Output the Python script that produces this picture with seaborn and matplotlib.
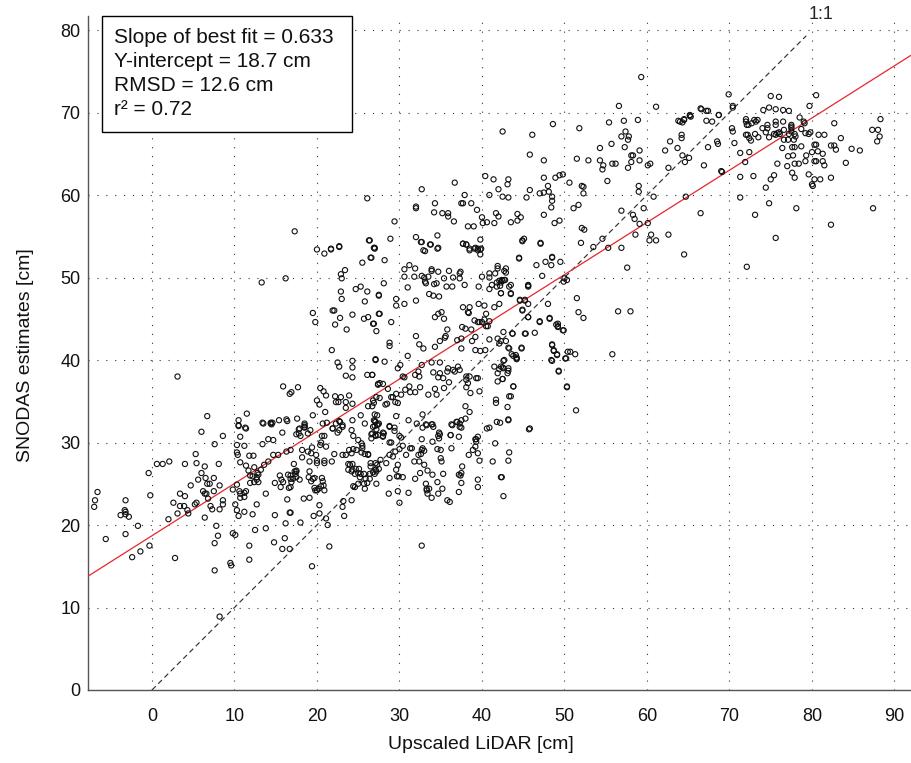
import numpy as np
import matplotlib
matplotlib.use("Agg")
import matplotlib.pyplot as plt
from matplotlib.patches import Rectangle
import seaborn as sns
import pandas as pd

sns.set_style("white")
plt.rcParams['font.family'] = ['Liberation Sans', 'DejaVu Sans']

# ---- data: (Upscaled LiDAR [cm], SNODAS estimate [cm]) ----
cluster_low = [
    (6.0,31.3),(8.6,30.8),(10.5,32.1),(11.3,31.8),(13.4,32.4),(14.4,32.4),(14.6,32.4),(15.8,31.2),(17.5,31.0),
    (10.7,30.7),(7.6,29.8),(10.3,29.7),(11.2,29.6),(13.4,29.8),(14.1,30.4),(14.7,30.3),(16.8,29.1),(16.3,28.9),
    (10.3,28.8),(10.4,28.5),(11.8,28.4),(12.3,28.4),(14.7,28.5),(15.3,28.5),(0.6,27.4),(1.3,27.4),(2.1,27.7),
    (4.0,27.4),(5.4,27.5),(5.3,28.6),(8.1,27.4),(6.4,27.1),(-0.4,26.3),(10.7,27.6),(11.4,27.2),(12.4,27.0),
    (13.6,27.3),(14.1,27.7),(11.7,26.6),(13.2,26.7),(12.8,26.3),(6.0,26.3),(5.6,25.5),(7.5,25.7),(6.5,25.7),
    (6.7,25.0),(7.0,25.0),(4.7,24.8),(3.4,23.8),(4.0,23.5),(2.6,22.7),(3.4,22.3),(3.9,22.3),(5.2,22.5),(5.4,22.7),
    (4.3,21.8),(4.4,21.4),(3.1,21.4),(2.0,20.7),(6.2,24.1),(6.4,23.8),(6.6,23.8),(6.8,23.2),(7.5,24.1),(8.2,24.8),
    (8.6,23.0),(8.6,22.5),(8.2,21.9),(7.1,22.3),(7.3,21.9),(6.4,20.9),(9.8,24.3),(10.3,24.9),(10.6,24.1),(10.7,23.8),
    (10.7,23.3),(11.2,23.9),(11.4,24.1),(11.2,23.4),(10.1,22.5),(10.3,21.8),(10.5,21.1),(11.2,21.6),(12.2,21.3),
    (12.7,22.5),(11.9,25.1),(12.4,25.2),(12.7,25.5),(12.9,25.2),(11.9,26.0),(12.2,25.9),(12.7,25.8),(12.9,26.1),
    (14.9,25.1),(15.5,26.0),(15.7,25.5),(15.9,25.2),(16.5,26.1),(16.8,25.6),(16.9,25.2),(17.3,26.5),(17.4,26.2),
    (17.5,26.6),(15.6,24.6),(16.6,24.5),(16.4,23.1),(16.7,21.5),(14.9,21.2),(13.8,23.8),(12.5,19.4),(13.8,19.6),
    (16.2,20.2),(14.8,17.9),(16.1,18.4),(15.8,17.1),(16.7,17.1),(11.8,17.5),(11.8,15.8),(9.8,19.0),(10.1,18.8),
    (7.8,19.9),(8.0,18.7),(7.6,17.8),(7.6,14.5),(9.5,15.4),(9.6,15.1),(8.2,8.9),(2.8,16.0),(-0.3,17.5),(-1.4,16.8),
    (-2.4,16.1),(-3.2,18.9),(-1.7,19.9),(-5.6,18.3),(-3.2,23.0),(-3.3,21.8),(-3.2,21.6),(-3.2,21.3),(-2.8,21.0),
    (-3.8,21.2),(-6.9,23.0),(-7.0,22.2),(-6.6,24.0),(-0.2,23.6),(3.1,38.0),
]

cluster_mid_low = [
    (16.8,26.0),(16.8,24.6),(16.8,21.5),(17.2,27.4),(17.5,26.5),(17.5,25.8),(17.1,25.6),(17.9,25.5),(18.5,32.3),
    (17.9,31.7),(18.5,31.9),(17.8,31.1),(18.0,30.8),(18.9,31.1),(19.2,31.5),(18.2,29.1),(18.2,28.2),(18.9,28.9),
    (19.4,29.4),(19.3,28.7),(19.9,28.5),(19.1,27.7),(19.1,26.5),(19.0,25.8),(19.3,25.3),(19.5,25.6),(19.7,25.7),
    (19.7,24.5),(19.8,24.2),(20.2,24.4),(20.5,24.7),(20.0,24.2),(20.9,24.2),(18.4,23.2),(19.1,23.3),(20.3,22.4),
    (20.3,21.4),(19.6,21.1),(18.0,20.3),(21.1,20.8),(21.3,20.0),(21.5,17.4),(19.4,15.0),(20.0,27.8),(20.0,27.5),
    (20.9,27.8),(20.9,27.5),(21.8,27.7),(20.6,25.7),(20.7,25.3),(20.8,24.8),(20.5,30.0),(20.4,29.7),(20.6,30.8),
    (20.9,30.8),(21.1,29.5),(22.1,28.6),(21.2,32.4),(21.9,31.7),(22.5,31.2),(22.7,31.5),(22.3,32.3),(22.8,32.5),
    (23.1,31.9),(23.1,28.5),(23.5,28.5),(23.8,27.4),(24.0,27.3),(24.3,27.4),(23.8,26.7),(24.3,26.7),(24.2,26.5),
    (24.7,26.8),(24.6,26.2),(25.0,26.3),(25.1,26.8),(24.4,24.7),(24.6,24.6),(25.0,25.0),(24.2,23.0),(23.2,22.9),
    (23.1,22.2),(23.3,21.1),(23.9,29.1),(24.4,29.2),(24.2,28.7),(24.8,29.1),(24.2,31.5),(24.4,30.8),(25.0,30.3),
    (25.4,29.9),(25.5,29.6),(25.5,29.3),(25.4,28.8),(25.8,28.6),(26.2,28.6),(25.3,26.2),(25.7,26.2),(25.2,25.8),
    (25.9,25.6),(25.7,25.0),(26.1,25.1),(25.8,24.4),(26.5,27.5),(26.5,27.1),(27.1,27.5),(27.3,27.3),(27.1,26.7),
    (27.5,26.8),(27.2,26.5),(27.0,26.2),(26.4,26.2),(26.8,26.4),(26.4,25.6),(27.2,25.0),(26.6,31.0),(26.6,30.5),
    (27.1,30.9),(27.4,30.9),(27.3,32.1),(27.1,32.5),(27.4,32.2),(28.0,31.2),(28.0,30.8),(26.2,28.5),(27.7,27.9),
    (28.8,32.0),(29.4,31.4),(28.4,27.5),(28.8,28.5),(29.2,28.3),(29.5,28.9),(28.8,30.0),(29.0,30.0),(30.0,30.8),
    (28.8,25.7),(28.7,23.8),(29.8,27.3),(29.6,26.7),(29.7,25.9),(29.9,25.9),(29.8,24.1),(30.0,22.7),(30.4,25.8),
    (30.0,29.2),(30.4,29.6),(30.8,28.5),(31.3,29.3),(31.5,29.3),(31.8,27.7),(32.4,27.7),(32.3,28.5),(32.6,28.6),
    (32.7,29.1),(32.8,29.3),(33.0,29.0),(31.9,25.6),(31.1,23.9),(32.7,30.4),(32.7,17.5),(33.0,27.3),(32.5,26.3),
    (33.2,25.0),(33.3,24.4),(33.3,24.2),(33.6,24.4),(33.4,23.8),(33.9,23.3),(33.2,32.2),(33.9,32.2),(34.1,31.9),
    (34.0,30.1),(33.4,26.6),(34.0,26.1),(34.6,29.2),(35.0,29.1),(35.0,28.1),(35.1,27.7),(34.7,30.8),(34.8,31.2),
    (34.6,25.2),(35.3,26.2),(35.2,24.4),(34.7,23.8),(35.8,23.0),(36.1,22.8),(36.3,32.2),(36.9,32.5),(37.3,32.3),
    (37.5,32.7),(36.2,30.9),(37.3,31.9),(36.3,29.3),(37.5,26.3),(37.2,26.1),(37.4,26.0),(37.5,25.1),(37.2,24.0),
    (37.6,27.1),(38.4,28.5),(38.9,29.1),(39.2,29.5),(39.3,30.4),(39.5,30.7),(39.3,30.1),(39.5,28.7),(39.7,27.8),
    (39.5,25.5),(39.5,24.6),(41.3,27.7),(41.6,29.9),(40.9,31.8),(42.2,32.4),(42.4,25.8),(42.6,23.5),
]

cluster_mid_left = [
    (20.0,53.4),(20.9,52.9),(21.7,53.4),(22.7,53.8),(26.3,54.5),(26.9,53.6),(26.5,52.4),(25.5,51.8),(23.4,50.9),
    (22.9,50.4),(23.0,49.9),(13.3,49.4),(16.2,49.9),(22.9,48.3),(23.0,47.4),(24.7,48.6),(25.3,48.9),(26.1,48.3),
    (25.8,47.1),(27.5,47.8),(19.5,45.7),(19.8,44.6),(21.9,46.0),(22.1,46.0),(22.8,45.1),(22.2,44.3),(23.6,43.7),
    (24.3,45.5),(25.7,45.0),(26.2,45.2),(26.8,44.4),(27.5,45.6),(21.8,41.2),(22.5,39.7),(22.7,39.2),(24.3,39.9),
    (24.3,39.1),(23.5,38.1),(24.3,37.9),(26.1,38.2),(26.7,38.2),(27.1,40.0),(27.4,37.0),(27.6,35.4),(15.9,36.8),
    (16.7,35.9),(16.9,36.1),(17.7,36.7),(20.4,36.6),(20.8,36.2),(21.1,35.7),(20.0,35.1),(20.3,34.6),(21.0,33.7),
    (22.2,35.6),(22.3,34.9),(22.6,34.9),(22.9,35.5),(23.5,34.9),(23.9,35.7),(23.5,34.2),(24.3,34.7),(25.3,33.3),
    (26.2,34.4),(26.7,34.4),(26.9,32.7),(27.3,33.3),(25.8,32.3),(26.8,31.9),(27.5,32.3),(24.3,32.7),(6.7,33.2),
    (10.5,32.7),(11.5,33.5),(10.5,32.0),(11.4,31.7),(13.5,32.3),(14.4,32.3),(14.5,32.2),(15.4,32.7),(16.3,32.8),
    (16.4,32.6),(17.6,32.9),(18.5,32.1),(18.5,31.8),(17.8,31.6),(19.5,33.3),(20.7,32.3),(21.9,31.7),(22.7,32.6),
    (23.1,32.1),
]

cluster_mid = [
    (32.7,54.3),(33.8,54.0),(34.7,53.6),(33.1,53.2),(37.7,54.1),(38.1,54.0),(38.5,53.3),(39.2,53.6),(39.5,53.3),
    (39.8,53.4),(39.8,52.8),(44.9,54.4),(47.1,54.1),(44.5,52.3),(46.6,51.5),(47.7,51.9),(48.4,51.5),(48.5,52.4),
    (49.5,51.9),(26.6,52.4),(27.0,53.6),(28.2,52.1),(30.6,51.0),(31.2,51.5),(31.9,51.1),(33.9,51.0),(33.9,50.8),
    (34.7,50.7),(36.0,50.8),(37.3,50.5),(37.4,50.7),(40.9,50.5),(41.9,51.4),(41.9,51.1),(41.6,50.5),(42.7,50.8),
    (42.9,50.6),(30.6,50.1),(31.8,50.1),(32.7,50.2),(33.0,50.0),(33.5,50.1),(35.4,49.9),(36.5,50.0),(37.3,49.9),
    (40.0,50.1),(40.9,50.0),(28.1,49.3),(31.0,48.8),(33.1,49.5),(34.2,49.2),(34.5,49.3),(33.2,49.3),(35.7,48.9),
    (36.4,48.9),(37.9,49.1),(39.6,48.9),(40.9,48.6),(41.2,49.1),(41.8,49.4),(42.3,49.4),(42.5,49.6),(42.8,49.7),
    (41.8,48.9),(42.2,49.0),(43.5,49.1),(45.6,49.0),(42.3,48.1),(43.5,48.1),(33.6,48.0),(34.1,47.8),(34.8,47.7),
    (27.5,47.9),(29.6,47.4),(29.6,46.6),(30.6,46.8),(32.0,47.2),(38.5,46.4),(39.6,46.8),(40.3,46.6),(41.5,46.4),
    (42.1,46.8),(44.6,47.2),(45.2,47.2),(44.9,46.0),(37.7,46.4),(38.3,45.8),(38.4,45.7),(40.5,45.6),(34.3,45.2),
    (34.7,45.6),(35.1,45.8),(35.4,45.0),(27.6,45.6),(29.0,44.6),(26.9,44.4),(39.1,44.8),(39.5,44.6),(39.7,44.6),
    (40.0,44.6),(40.3,44.9),(40.9,44.7),(40.7,44.1),(40.5,44.1),(37.6,44.0),(38.0,43.8),(38.7,43.7),(35.8,43.7),
    (45.6,45.2),(47.0,44.6),(48.2,45.0),(49.0,44.3),(49.2,44.0),(49.8,43.6),(27.2,43.5),(32.0,42.9),(35.5,42.7),
    (35.6,42.9),(37.0,42.4),(37.5,42.6),(34.9,42.3),(34.3,41.6),(32.9,41.4),(32.4,41.9),(39.2,42.8),(38.8,42.3),
    (40.9,42.5),(41.9,42.6),(42.3,42.3),(42.9,42.3),(43.7,43.2),(45.2,43.2),(46.4,43.3),(28.8,42.1),(28.8,41.7),
    (37.5,41.4),(39.2,41.2),(39.8,41.1),(40.4,41.2),(43.3,41.4),(44.8,41.4),(48.5,41.8),(48.7,41.1),(49.1,40.6),
    (50.4,41.0),(31.0,40.5),(27.1,40.1),(28.2,39.8),(43.8,40.5),(44.2,40.3),(44.2,40.1),(42.7,40.0),(48.4,40.0),
    (50.2,40.2),(30.1,39.4),(29.8,39.0),(32.7,39.4),(32.3,38.6),(31.9,38.2),(32.4,38.0),(30.4,38.0),(30.6,37.9),
    (26.7,38.2),(27.6,37.2),(28.0,37.1),(27.4,37.1),(28.6,36.5),(29.0,35.5),(27.2,35.5),(26.8,35.1),(33.9,39.7),
    (34.9,39.7),(35.9,39.0),(35.8,38.6),(34.9,38.4),(34.1,38.5),(34.7,37.9),(35.3,37.8),(36.5,38.8),(37.1,39.2),
    (37.3,38.8),(36.7,38.6),(38.1,38.0),(38.1,37.6),(38.5,38.0),(39.3,37.8),(39.5,37.8),(36.0,37.3),(35.4,36.6),
    (34.3,36.5),(34.5,35.8),(33.5,35.8),(32.5,36.7),(31.9,36.1),(31.2,36.8),(31.3,36.1),(30.7,36.4),(30.2,35.8),
    (29.6,35.9),(29.2,35.5),(29.8,34.8),(29.5,34.9),(28.5,34.7),(28.3,34.6),(26.9,34.8),(41.5,39.2),(42.1,38.9),
    (42.5,39.1),(43.1,38.4),(41.9,38.4),(42.5,37.7),(41.9,37.4),(43.8,36.8),(38.1,36.7),(38.3,37.2),(39.7,36.2),
    (38.6,36.0),(43.3,35.6),(41.7,35.2),(41.7,34.8),(43.2,32.7),(41.8,32.5),(49.3,38.6),(50.3,36.7),(45.7,31.6),
    (40.6,31.7),(38.0,34.4),(38.5,33.7),(38.0,32.9),(37.0,32.5),(37.5,31.8),(36.4,32.1),(37.2,30.7),(36.2,30.9),
    (34.9,31.0),(34.8,30.5),(32.8,33.4),(34.0,32.2),(33.3,32.1),(32.8,31.8),(32.1,32.3),(31.1,32.7),(29.6,33.2),
    (29.4,31.8),(28.8,31.9),(28.1,31.1),(28.0,30.7),(27.0,33.4),(27.0,32.6),(27.0,32.0),(27.2,31.6),(26.7,31.1),
    (27.1,30.8),(30.2,30.6),(39.2,30.4),
]

cluster_upper = [
    (17.3,55.6),(26.1,59.6),(26.4,54.5),(27.0,53.5),(21.7,53.5),(22.7,53.7),(28.9,54.7),(29.4,56.8),(32.7,60.7),
    (32.0,58.6),(32.0,58.4),(36.7,61.5),(34.3,59.0),(34.2,57.9),(35.2,57.8),(35.9,57.8),(35.9,57.4),(36.6,56.8),
    (37.9,60.0),(37.5,59.0),(37.7,59.0),(38.7,59.0),(39.4,58.2),(40.0,57.3),(40.1,56.6),(40.6,56.7),(38.3,56.2),
    (39.0,56.2),(40.4,62.3),(32.0,54.9),(32.6,54.3),(33.7,54.0),(34.6,55.1),(32.9,53.3),(34.6,53.5),(37.7,54.1),
    (38.1,54.0),(39.8,54.6),(38.5,53.5),(39.1,53.5),(39.5,53.5),(39.9,53.5),
    (42.5,67.7),(46.1,67.3),(48.6,68.6),(51.8,68.1),(45.8,64.9),(47.5,64.2),(41.4,61.9),(42.0,60.7),(43.2,61.9),
    (43.1,61.3),(40.9,60.0),(42.5,59.8),(43.2,59.7),(45.8,60.6),(47.0,60.2),(47.5,60.3),(48.0,61.1),(48.1,60.4),
    (47.5,62.1),(48.9,62.1),(49.4,62.4),(49.8,62.5),(50.6,61.5),(48.5,59.8),(48.5,59.3),(48.4,58.5),(47.5,57.6),
    (45.4,59.7),(41.7,57.8),(42.0,57.4),(41.5,56.6),(43.5,56.7),(44.3,57.7),(44.7,57.3),(44.3,56.9),(44.9,54.5),
    (45.1,54.7),(47.1,54.2),(48.8,56.6),(49.4,56.9),(48.5,52.5),(44.5,52.4),(51.1,58.4),(51.7,58.8),(52.1,61.1),
    (52.3,61.0),(52.3,60.2),(51.5,64.4),(52.9,64.2),(54.3,65.7),(54.3,64.2),(54.7,63.6),(54.6,63.1),(55.2,61.7),
    (55.4,68.8),(56.6,70.8),(57.2,69.0),(58.9,69.1),(61.1,70.7),(55.7,66.2),(55.8,63.8),(56.2,63.8),(56.9,67.1),
    (57.4,67.7),(57.8,67.1),(57.7,66.7),(57.3,65.8),(58.1,64.8),(58.3,64.8),(58.1,64.0),(57.7,63.3),(59.1,65.4),
    (59.1,64.2),(52.1,56.0),(52.4,55.8),(52.0,54.2),(53.5,53.7),(54.6,54.7),(55.3,53.6),(56.9,58.1),(56.9,53.6),
    (58.3,57.6),(58.5,57.1),(59.0,61.1),(59.0,60.4),(59.6,58.4),(59.1,56.5),(58.6,55.2),(60.1,56.6),(60.5,55.2),
    (60.3,54.5),(61.1,54.5),(62.6,55.2),(64.5,52.8),(60.8,59.8),(60.1,63.6),(60.4,63.8),(62.6,63.3),(62.2,65.4),
    (62.8,66.5),(63.7,65.7),(64.0,68.9),(64.3,68.8),(64.5,69.2),(65.2,69.7),(64.2,67.3),(64.2,66.9),(64.3,64.8),
    (64.6,64.0),(65.1,64.5),(64.7,59.8),(59.3,74.3),(66.5,70.5),(67.4,70.2),(69.9,72.2),(70.4,70.8),(68.7,69.7),
    (65.3,69.5),(64.5,69.1),(63.8,69.0),(72.0,68.9),(73.2,68.9),
]

cluster_high = [
    (75.0,72.0),(76.0,71.9),(80.5,72.1),(70.4,70.6),(66.6,70.4),(67.2,70.2),(65.2,69.6),(68.7,69.7),(67.2,69.0),
    (67.9,68.9),(74.1,70.3),(74.8,70.6),(75.6,70.4),(76.5,70.3),(77.2,70.2),(79.7,70.8),(78.5,69.4),(72.0,69.2),
    (73.0,69.1),(73.4,69.1),(72.7,68.7),(72.1,68.5),(72.3,68.5),(74.6,68.5),(75.6,68.9),(76.5,68.9),(75.6,68.5),
    (74.6,68.1),(77.5,68.5),(77.5,68.1),(79.1,68.7),(79.0,68.9),(82.7,68.7),(88.3,69.2),(87.3,67.9),(88.0,67.9),
    (88.2,67.1),(87.9,66.5),(70.3,68.1),(70.4,67.7),(68.5,66.5),(68.6,66.2),(67.4,65.8),(66.9,63.6),(69.0,62.9),
    (69.1,62.8),(72.0,67.3),(72.2,67.3),(72.4,66.9),(72.6,66.6),(73.1,67.4),(73.5,67.0),(74.0,68.1),(74.4,67.6),
    (74.8,67.0),(75.4,67.4),(75.6,67.3),(75.8,67.5),(76.0,67.6),(76.1,67.4),(76.6,67.9),(77.2,67.4),(77.5,68.3),
    (77.5,67.7),(77.9,67.4),(78.0,67.1),(77.8,66.7),(77.1,66.7),(76.6,66.7),(78.7,68.0),(79.2,67.5),(79.8,67.6),
    (79.6,67.4),(80.8,67.3),(81.5,67.3),(83.5,66.9),(82.3,66.0),(82.7,66.0),(82.9,65.5),(84.8,65.6),(85.8,65.4),
    (84.1,63.9),(70.6,66.3),(71.3,65.1),(72.4,65.2),(71.9,64.0),(71.3,62.2),(72.9,62.3),(74.4,60.9),(75.0,61.9),
    (75.4,62.4),(75.8,63.8),(76.4,65.7),(77.1,64.7),(77.0,63.5),(77.6,65.8),(77.9,65.8),(77.7,64.8),(77.9,63.8),
    (78.4,63.8),(77.9,62.1),(77.6,62.7),(78.7,65.9),(79.3,64.8),(79.2,64.1),(79.6,62.5),(80.0,65.2),(80.3,66.1),
    (80.5,66.1),(80.7,65.3),(80.3,64.1),(80.5,64.1),(81.3,64.1),(81.5,63.6),(81.3,65.0),(82.3,62.1),(81.0,61.9),
    (80.3,61.9),(80.0,61.3),(80.1,61.1),(74.8,59.0),(78.1,58.4),(73.1,57.6),(75.6,54.8),(82.3,56.4),(87.4,58.4),
    (72.1,51.3),(71.3,59.7),(66.5,57.8),
]

cluster_right_mid = [
    (42.9,51.1),(47.3,50.2),(57.6,51.2),(42.1,49.6),(42.4,49.7),(42.7,49.7),(43.3,48.9),(42.3,48.1),(43.5,48.0),
    (45.6,49.1),(45.6,48.9),(49.9,49.5),(50.3,49.7),(50.0,49.9),(44.6,47.3),(45.2,47.3),(45.6,46.8),(44.9,46.1),
    (48.0,46.8),(48.2,45.1),(47.0,44.7),(49.2,44.4),(49.2,44.1),(49.9,43.6),(45.6,45.2),(45.3,43.2),(42.6,43.4),
    (43.7,43.2),(51.5,47.5),(51.7,45.8),(52.3,45.1),(56.5,45.9),(58.0,45.9),(42.1,42.0),(43.2,41.5),(44.8,41.5),
    (43.6,40.7),(44.1,40.6),(44.2,40.2),(42.6,39.9),(48.5,41.9),(48.7,41.2),(49.1,40.7),(48.5,39.9),(50.1,40.2),
    (50.7,41.0),(51.3,40.7),(55.8,40.7),(42.3,39.2),(42.6,39.0),(43.2,39.0),(43.2,38.7),(42.5,37.7),(43.8,36.8),
    (43.5,35.6),(43.1,34.3),(43.2,32.8),(45.8,31.7),(49.3,38.7),(50.3,36.8),(51.4,33.9),(43.3,28.8),(43.2,27.8),
    (42.3,25.8),
]

all_pts = (cluster_low + cluster_mid_low + cluster_mid_left + cluster_mid
           + cluster_upper + cluster_high + cluster_right_mid)
lidar_cm = [p[0] for p in all_pts]
snodas_cm = [p[1] for p in all_pts]

fit_slope = 0.633
fit_intercept = 18.7
stats_lines = ["Slope of best fit = 0.633", "Y-intercept = 18.7 cm",
               "RMSD = 12.6 cm", "r\u00b2 = 0.72"]
x_ticks = list(range(0, 100, 10))
y_ticks = list(range(0, 90, 10))

df = pd.DataFrame({"lidar": lidar_cm, "snodas": snodas_cm})

# ---- figure ----
W, H = 911, 763
fig = plt.figure(figsize=(W / 100, H / 100), dpi=100)
ax = fig.add_axes([88 / W, 73 / H, 823 / W, 674 / H])

xmin, xmax = -7.75, 92.0
ymin, ymax = 0.0, 81.7

ax.grid(True, linestyle=(0, (1, 7)), linewidth=0.8, color='#333333')
ax.set_axisbelow(True)

# 1:1 line
one_x = np.array([0.0, 79.3])
ax.plot(one_x, one_x, color='#333333', lw=0.85, ls=(0, (4.5, 3)), zorder=2)
ax.text(81.1, 81.9, "1:1", fontsize=13, ha='center', va='center', clip_on=False)

# best-fit line
fx = np.array([xmin, xmax])
sns.lineplot(x=fx, y=fit_slope * fx + fit_intercept, ax=ax, color='#e8262b', lw=0.9, zorder=3)

sns.scatterplot(data=df, x="lidar", y="snodas", ax=ax, marker='o', s=14,
                facecolors='none', edgecolor='#111111', linewidth=0.8, zorder=4, legend=False)

ax.set_xlim(xmin, xmax)
ax.set_ylim(ymin, ymax)
ax.set_xticks(x_ticks)
ax.set_yticks(y_ticks)

for side in ['top', 'right']:
    ax.spines[side].set_visible(False)
for side in ['left', 'bottom']:
    ax.spines[side].set_color('#555555')
    ax.spines[side].set_linewidth(1.0)

ax.tick_params(axis='both', direction='in', length=6.5, width=0.9, color='#444444',
               labelsize=13, labelcolor='#111111')
ax.tick_params(axis='x', pad=13)
ax.tick_params(axis='y', pad=5.5)

ax.set_xlabel("Upscaled LiDAR [cm]", fontsize=14, color='#111111')
ax.set_ylabel("SNODAS estimates [cm]", fontsize=14, color='#111111')
ax.xaxis.set_label_coords(0.4775, -0.068)
ax.yaxis.set_label_coords(-0.066, 0.497)

# stats box
box = Rectangle((-6.05, 67.6), 30.35, 14.1, facecolor='white', edgecolor='black',
                lw=1.0, zorder=6, clip_on=False)
ax.add_patch(box)
line_y = [79.15, 76.2, 73.3, 70.4]
for txt, yy in zip(stats_lines, line_y):
    ax.text(-4.6, yy, txt, fontsize=15, ha='left', va='center', zorder=7, color='#111111')

fig.savefig("out.png", dpi=100)
